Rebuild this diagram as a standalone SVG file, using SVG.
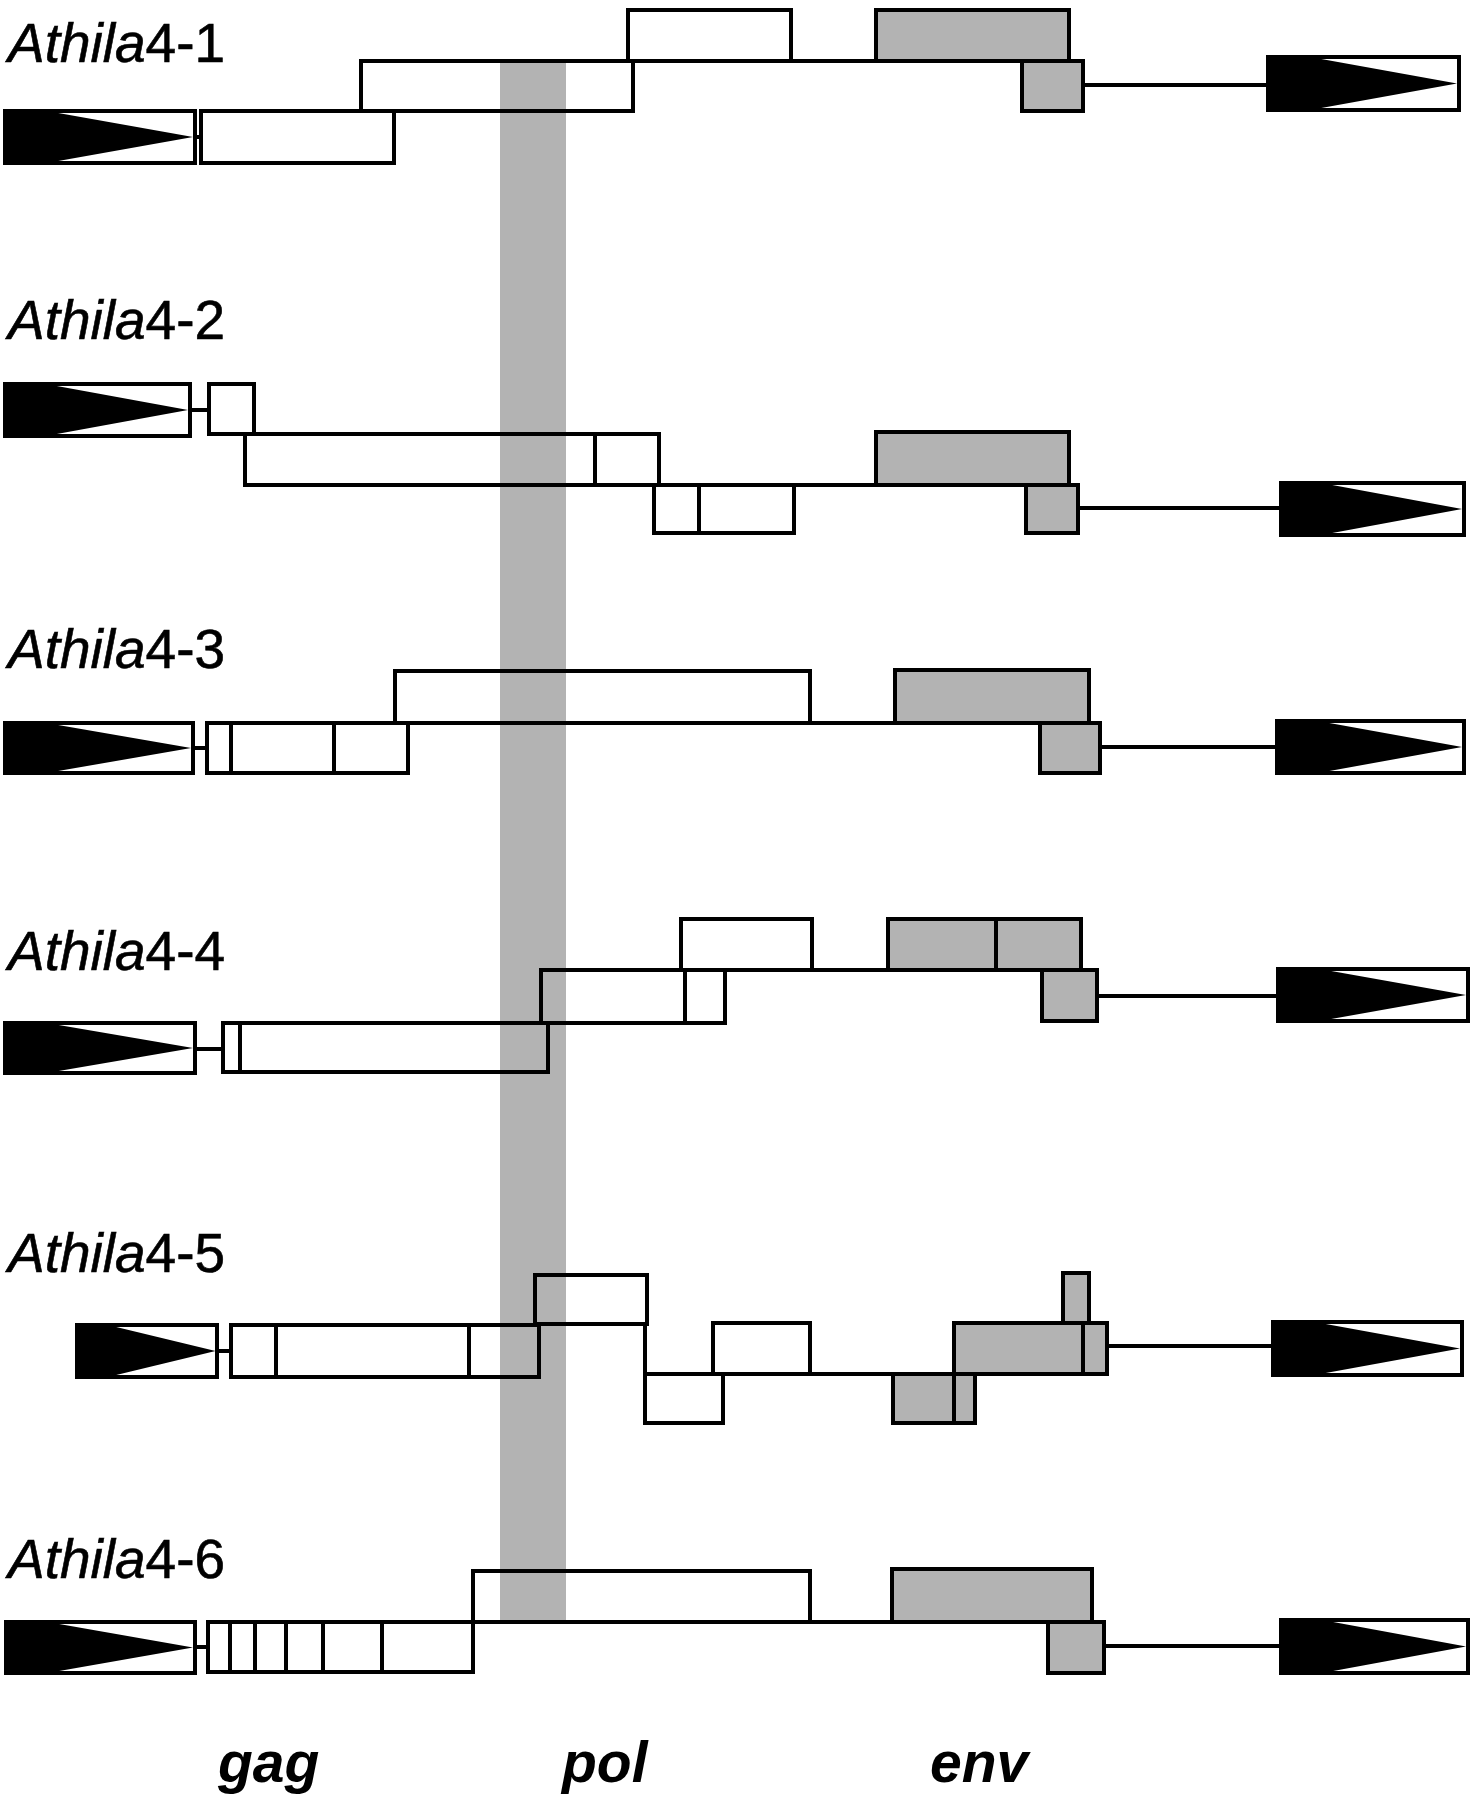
<svg xmlns="http://www.w3.org/2000/svg" xmlns:xlink="http://www.w3.org/1999/xlink" width="1476" height="1800" viewBox="0 0 1476 1800">
<style>
.b{fill:none;stroke:#000;stroke-width:4;stroke-linejoin:miter}
.g{fill:#b3b3b3;stroke:#000;stroke-width:4}
.c{stroke:#000;stroke-width:4;fill:none}
.lab{font-family:"Liberation Sans",Arial,sans-serif;font-size:55px;fill:#000;stroke:#000;stroke-width:0.6}
.gene{font-family:"Liberation Sans",Arial,sans-serif;font-size:57px;font-weight:bold;font-style:italic;fill:#000}
</style>
<defs>
<symbol id="ltr" viewBox="0 0 190 52" preserveAspectRatio="none" overflow="visible">
<rect x="0" y="0" width="190" height="52" fill="#fff" stroke="#000" stroke-width="4" vector-effect="non-scaling-stroke"/>
<polygon points="0,0 42,0 188,26 42,52 0,52" fill="#000"/>
</symbol>
</defs>
<rect width="1476" height="1800" fill="#fff"/>
<rect id="pol-band" x="500" y="61" width="66" height="1560" fill="#b3b3b3"/>

<g id="row1">
<text class="lab" x="8" y="62"><tspan font-style="italic">Athila</tspan>4-1</text>
<use xlink:href="#ltr" x="5" y="111" width="190" height="52"/>
<rect class="b" x="201" y="111" width="193" height="52"/>
<rect class="b" x="361" y="61" width="272" height="50"/>
<rect class="b" x="628" y="10" width="163" height="51"/>
<rect class="g" x="876" y="10" width="193" height="51"/>
<rect class="g" x="1022" y="61" width="61" height="50"/>
<use xlink:href="#ltr" x="1268" y="57" width="191" height="53"/>
</g>

<g id="row2">
<text class="lab" x="8" y="339"><tspan font-style="italic">Athila</tspan>4-2</text>
<use xlink:href="#ltr" x="5" y="384" width="185" height="52"/>
<rect class="b" x="209" y="384" width="45" height="50"/>
<rect class="b" x="245" y="434" width="414" height="51"/>
<line class="c" x1="595" y1="434" x2="595" y2="485"/>
<rect class="b" x="654" y="485" width="140" height="48"/>
<line class="c" x1="699" y1="485" x2="699" y2="533"/>
<rect class="g" x="876" y="432" width="193" height="53"/>
<rect class="g" x="1026" y="485" width="52" height="48"/>
<use xlink:href="#ltr" x="1281" y="483" width="183" height="52"/>
</g>

<g id="row3">
<text class="lab" x="8" y="668"><tspan font-style="italic">Athila</tspan>4-3</text>
<use xlink:href="#ltr" x="5" y="723" width="188" height="50"/>
<rect class="b" x="207" y="723" width="201" height="50"/>
<line class="c" x1="231" y1="723" x2="231" y2="773"/>
<line class="c" x1="334" y1="723" x2="334" y2="773"/>
<rect class="b" x="395" y="671" width="415" height="52"/>
<rect class="g" x="895" y="670" width="194" height="53"/>
<rect class="g" x="1040" y="723" width="60" height="50"/>
<use xlink:href="#ltr" x="1277" y="721" width="187" height="52"/>
</g>

<g id="row4">
<text class="lab" x="8" y="970"><tspan font-style="italic">Athila</tspan>4-4</text>
<use xlink:href="#ltr" x="5" y="1023" width="190" height="50"/>
<rect class="b" x="223" y="1023" width="325" height="49"/>
<line class="c" x1="240" y1="1023" x2="240" y2="1072"/>
<rect class="b" x="541" y="970" width="184" height="53"/>
<line class="c" x1="685" y1="970" x2="685" y2="1023"/>
<rect class="b" x="681" y="919" width="131" height="51"/>
<rect class="g" x="888" y="919" width="193" height="51"/>
<line class="c" x1="996" y1="919" x2="996" y2="970"/>
<rect class="g" x="1042" y="970" width="55" height="51"/>
<use xlink:href="#ltr" x="1278" y="969" width="190" height="52"/>
</g>

<g id="row5">
<text class="lab" x="8" y="1272"><tspan font-style="italic">Athila</tspan>4-5</text>
<use xlink:href="#ltr" x="77" y="1325" width="140" height="52"/>
<rect class="b" x="231" y="1325" width="308" height="52"/>
<line class="c" x1="276" y1="1325" x2="276" y2="1377"/>
<line class="c" x1="469" y1="1325" x2="469" y2="1377"/>
<rect class="b" x="535" y="1275" width="112" height="49"/>
<rect class="b" x="645" y="1374" width="78" height="49"/>
<rect class="b" x="713" y="1323" width="97" height="51"/>
<rect class="g" x="893" y="1374" width="82" height="49"/>
<line class="c" x1="954" y1="1374" x2="954" y2="1423"/>
<rect class="g" x="954" y="1323" width="153" height="51"/>
<line class="c" x1="1083" y1="1323" x2="1083" y2="1374"/>
<rect class="g" x="1063" y="1273" width="26" height="50"/>
<use xlink:href="#ltr" x="1273" y="1322" width="189" height="53"/>
</g>

<g id="row6">
<text class="lab" x="8" y="1578"><tspan font-style="italic">Athila</tspan>4-6</text>
<use xlink:href="#ltr" x="6" y="1622" width="189" height="51"/>
<rect class="b" x="208" y="1622" width="265" height="50"/>
<line class="c" x1="230" y1="1622" x2="230" y2="1672"/>
<line class="c" x1="255" y1="1622" x2="255" y2="1672"/>
<line class="c" x1="286" y1="1622" x2="286" y2="1672"/>
<line class="c" x1="323" y1="1622" x2="323" y2="1672"/>
<line class="c" x1="382" y1="1622" x2="382" y2="1672"/>
<rect class="b" x="473" y="1571" width="337" height="51"/>
<rect class="g" x="892" y="1569" width="200" height="53"/>
<rect class="g" x="1048" y="1622" width="56" height="51"/>
<use xlink:href="#ltr" x="1281" y="1620" width="187" height="53"/>
</g>

<g id="connectors">
<line class="c" x1="195" y1="137" x2="201" y2="137"/>
<line class="c" x1="791" y1="61" x2="876" y2="61"/>
<line class="c" x1="1083" y1="85" x2="1268" y2="85"/>

<line class="c" x1="190" y1="410" x2="209" y2="410"/>
<line class="c" x1="794" y1="485" x2="876" y2="485"/>
<line class="c" x1="1078" y1="508" x2="1281" y2="508"/>

<line class="c" x1="193" y1="748" x2="207" y2="748"/>
<line class="c" x1="810" y1="723" x2="895" y2="723"/>
<line class="c" x1="1100" y1="747" x2="1277" y2="747"/>

<line class="c" x1="195" y1="1049" x2="223" y2="1049"/>
<line class="c" x1="812" y1="970" x2="888" y2="970"/>
<line class="c" x1="1097" y1="996" x2="1278" y2="996"/>

<line class="c" x1="217" y1="1351" x2="231" y2="1351"/>
<line class="c" x1="645" y1="1324" x2="645" y2="1374"/>
<line class="c" x1="723" y1="1374" x2="893" y2="1374"/>
<line class="c" x1="1107" y1="1346" x2="1273" y2="1346"/>

<line class="c" x1="195" y1="1647" x2="208" y2="1647"/>
<line class="c" x1="810" y1="1622" x2="892" y2="1622"/>
<line class="c" x1="1104" y1="1646" x2="1281" y2="1646"/>
</g>

<g id="gene-labels">
<text class="gene" x="218" y="1782">gag</text>
<text class="gene" x="562" y="1782">pol</text>
<text class="gene" x="930" y="1782">env</text>
</g>
</svg>
